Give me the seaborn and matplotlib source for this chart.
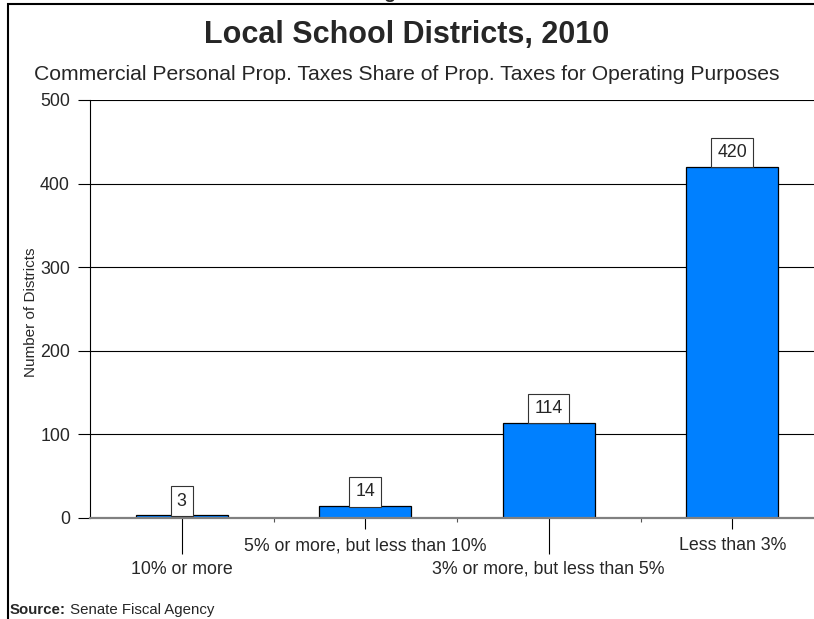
import matplotlib
matplotlib.use("Agg")
import matplotlib.pyplot as plt
from matplotlib.patches import Rectangle
import seaborn as sns
import pandas as pd

categories = ["10% or more", "5% or more, but less than 10%",
              "3% or more, but less than 5%", "Less than 3%"]
values = [3, 14, 114, 420]
y_ticks = [0, 100, 200, 300, 400, 500]

title = "Local School Districts, 2010"
subtitle = "Commercial Personal Prop. Taxes Share of Prop. Taxes for Operating Purposes"
ylabel = "Number of Districts"
source_bold = "Source:"
source_rest = " Senate Fiscal Agency"
fig_label = "Figure 1"

sns.set_style("white")
plt.rcParams["font.family"] = ["Liberation Sans", "DejaVu Sans"]

W, H = 814, 619
fig = plt.figure(figsize=(W / 100, H / 100), dpi=100)
fig.patch.set_facecolor("white")

def fx(px):
    return px / W

def fy(py):
    return 1 - py / H

ax = fig.add_axes([fx(90), fy(518), 734 / W, 418 / H])

df = pd.DataFrame({"cat": categories, "val": values})
sns.barplot(data=df, x="cat", y="val", color="#0080FF", saturation=1,
            width=0.5, edgecolor="black", linewidth=0.9, ax=ax, zorder=3)

n = len(categories)
ax.set_xlim(-0.5, n - 0.5)
ax.set_ylim(0, 500)
ax.set_yticks(y_ticks)
ax.set_xlabel("")
ax.set_ylabel("")

# grid
ax.set_axisbelow(True)
ax.yaxis.grid(True, color="black", linewidth=0.8)
ax.xaxis.grid(False)

for s in ["top", "right"]:
    ax.spines[s].set_visible(False)
ax.spines["left"].set_color("black")
ax.spines["left"].set_linewidth(0.8)
ax.spines["bottom"].set_color("#808080")
ax.spines["bottom"].set_linewidth(1.6)
ax.spines["bottom"].set_zorder(4)

ax.tick_params(axis="y", direction="out", length=8.6, width=0.8, color="black",
               pad=5.8, labelsize=12.8, left=True)

# staggered category labels: even-index categories on long ticks
pos_long = list(range(n))[0::2]
pos_short = list(range(n))[1::2]
ax.set_xticks(pos_long, labels=categories[0::2])
ax.tick_params(axis="x", which="major", direction="out", length=25.6, width=0.8,
               color="black", pad=5.0, labelsize=12.8, bottom=True)

# minor ticks at category boundaries
ax.set_xticks([i + 0.5 for i in range(n - 1)], minor=True)
ax.tick_params(axis="x", which="minor", length=3, width=0.8, color="#555555",
               direction="out", bottom=True)

sec = ax.secondary_xaxis("bottom")
sec.set_xticks(pos_short, labels=categories[1::2])
sec.tick_params(axis="x", which="major", direction="out", length=7.9, width=0.8,
                color="black", pad=6.0, labelsize=12.8, bottom=True)
sec.tick_params(axis="x", which="minor", bottom=False)
sec.spines["bottom"].set_visible(False)

# value labels
for i, v in enumerate(values):
    ax.annotate(str(v), xy=(i, v), xytext=(0, 10.3), textcoords="offset points",
                ha="center", va="center", fontsize=12.8, zorder=5,
                bbox=dict(boxstyle="square,pad=0.35", facecolor="white",
                          edgecolor="#333333", linewidth=0.8))

# texts
fig.text(fx(407), fy(43.3), title, ha="center", va="baseline",
         fontsize=22, fontweight="bold")
fig.text(fx(406.5), fy(80), subtitle, ha="center", va="baseline", fontsize=15.2)
fig.text(fx(31), fy(312), ylabel, ha="center", va="center", rotation=90,
         fontsize=11)
fig.text(fx(405), fy(-1.5), fig_label, ha="center", va="baseline",
         fontsize=14, fontweight="bold")

sb = fig.text(fx(10), fy(614), source_bold, ha="left", va="baseline",
              fontsize=10.8, fontweight="bold")
fig.canvas.draw()
bb = sb.get_window_extent()
fig.text(bb.x1 / W, fy(614), source_rest, ha="left", va="baseline", fontsize=10.8)

# frame border (top and left)
fig.add_artist(Rectangle((fx(8), -0.2), 1.2, fy(4) + 0.2, transform=fig.transFigure,
                         fill=False, edgecolor="black", linewidth=1.5, zorder=10))

fig.savefig("out.png", dpi=100, facecolor="white")
